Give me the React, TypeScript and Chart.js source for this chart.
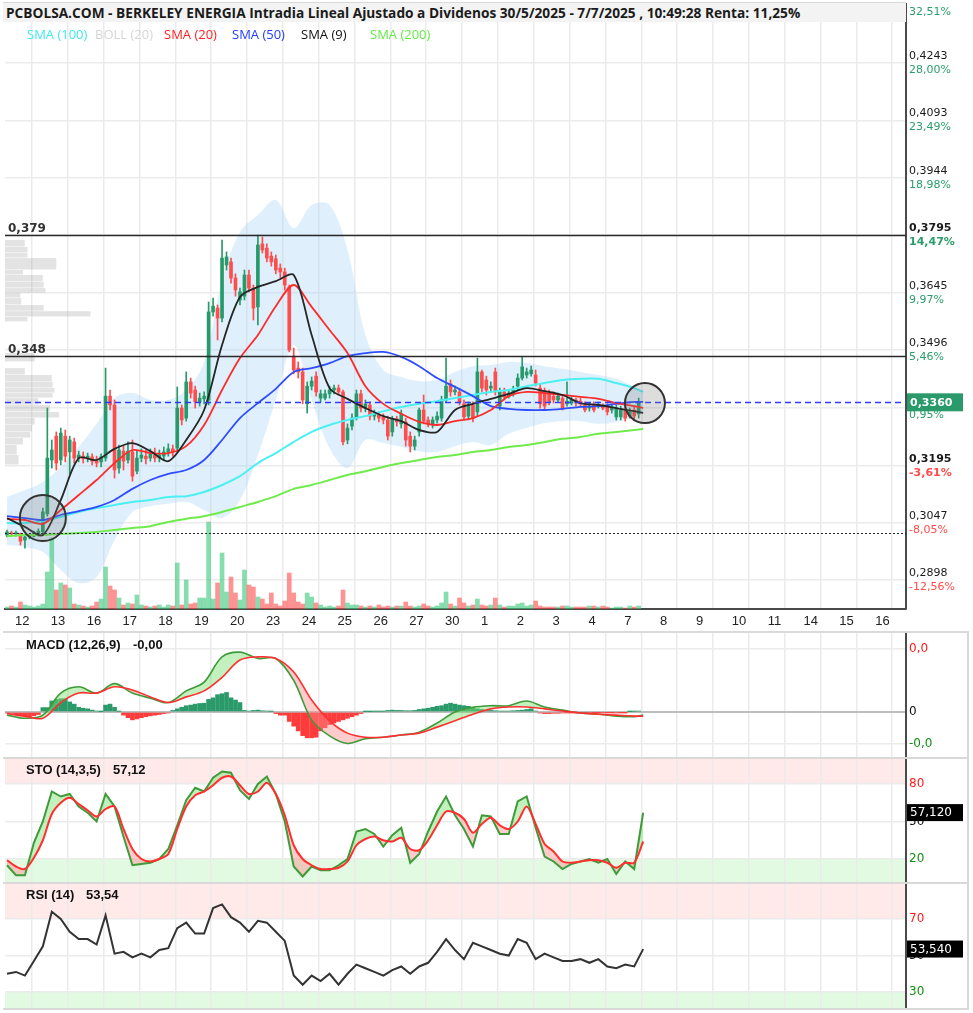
import React, { useEffect, useRef } from "react";
import { Chart, registerables } from "chart.js";

Chart.register(...registerables);
Chart.defaults.font.family = "DejaVu Sans";

/* ---------------- data ---------------- */
const TITLE =
  "PCBOLSA.COM - BERKELEY ENERGIA Intradia Lineal Ajustado a Dividenos 30/5/2025 - 7/7/2025 , 10:49:28 Renta: 11,25%";

const DAY_LABELS = ["12", "13", "16", "17", "18", "19", "20", "23", "24", "25", "26", "27", "30", "1", "2", "3", "4", "7", "8", "9", "10", "11", "14", "15", "16"];

const OPEN = [0.3015,0.3020,0.3018,0.3018,0.3002,0.3010,0.3012,0.3018,0.3023,0.3070,
0.3210,0.3272,0.3210,0.3272,0.3231,0.3257,0.3215,0.3220,0.3215,0.3218,
0.3210,0.3205,0.3215,0.3376,0.3353,0.3189,0.3233,0.3210,0.3231,0.3181,
0.3215,0.3220,0.3215,0.3223,0.3215,0.3220,0.3231,0.3239,0.3241,0.3345,
0.3319,0.3413,0.3392,0.3361,0.3369,0.3366,0.3595,0.3605,0.3579,0.3717,
0.3725,0.3683,0.3626,0.3636,0.3691,0.3657,0.3608,0.3772,0.3761,0.3740,
0.3733,0.3709,0.3699,0.3660,0.3480,0.3449,0.3439,0.3356,0.3402,0.3428,
0.3371,0.3371,0.3382,0.3392,0.3397,0.3387,0.3262,0.3298,0.3319,0.3382,
0.3345,0.3353,0.3324,0.3327,0.3322,0.3314,0.3283,0.3317,0.3304,0.3309,
0.3272,0.3246,0.3283,0.3340,0.3314,0.3304,0.3314,0.3319,0.3366,0.3408,
0.3387,0.3387,0.3356,0.3324,0.3353,0.3335,0.3439,0.3418,0.3397,0.3439,
0.3350,0.3387,0.3376,0.3384,0.3402,0.3423,0.3431,0.3434,0.3431,0.3397,
0.3387,0.3382,0.3376,0.3366,0.3371,0.3356,0.3358,0.3366,0.3363,0.3353,
0.3345,0.3353,0.3350,0.3350,0.3348,0.3340,0.3322,0.3322,0.3340,0.3324,
0.3340,0.3330];

const HIGH = [0.3028,0.3025,0.3025,0.3020,0.3015,0.3018,0.3025,0.3031,0.3085,0.3345,
0.3262,0.3283,0.3293,0.3288,0.3272,0.3267,0.3233,0.3231,0.3228,0.3226,
0.3220,0.3226,0.3449,0.3392,0.3366,0.3249,0.3246,0.3257,0.3262,0.3236,
0.3239,0.3236,0.3239,0.3241,0.3236,0.3244,0.3252,0.3249,0.3400,0.3353,
0.3439,0.3423,0.3402,0.3384,0.3387,0.3621,0.3631,0.3613,0.3782,0.3751,
0.3735,0.3694,0.3657,0.3704,0.3704,0.3665,0.3795,0.3790,0.3772,0.3751,
0.3743,0.3720,0.3709,0.3665,0.3501,0.3465,0.3449,0.3413,0.3426,0.3439,
0.3392,0.3392,0.3402,0.3405,0.3405,0.3392,0.3304,0.3330,0.3392,0.3392,
0.3366,0.3361,0.3340,0.3335,0.3330,0.3324,0.3324,0.3324,0.3340,0.3319,
0.3283,0.3272,0.3345,0.3379,0.3322,0.3322,0.3335,0.3376,0.3475,0.3418,
0.3402,0.3397,0.3366,0.3361,0.3361,0.3475,0.3444,0.3428,0.3413,0.3449,
0.3397,0.3397,0.3392,0.3402,0.3434,0.3478,0.3449,0.3454,0.3444,0.3408,
0.3397,0.3392,0.3387,0.3384,0.3379,0.3413,0.3374,0.3371,0.3371,0.3361,
0.3358,0.3361,0.3361,0.3356,0.3356,0.3356,0.3353,0.3350,0.3350,0.3345,
0.3350,0.3371];

const LOW = [0.3010,0.3012,0.3012,0.2989,0.2981,0.3005,0.3010,0.3012,0.3018,0.3064,
0.3189,0.3184,0.3197,0.3205,0.3174,0.3202,0.3205,0.3202,0.3205,0.3197,
0.3192,0.3192,0.3207,0.3340,0.3163,0.3176,0.3184,0.3202,0.3155,0.3174,
0.3205,0.3200,0.3207,0.3205,0.3205,0.3210,0.3220,0.3220,0.3231,0.3301,
0.3311,0.3371,0.3345,0.3350,0.3356,0.3353,0.3584,0.3522,0.3569,0.3704,
0.3670,0.3636,0.3613,0.3626,0.3647,0.3574,0.3561,0.3748,0.3725,0.3714,
0.3694,0.3683,0.3652,0.3491,0.3434,0.3423,0.3356,0.3332,0.3392,0.3376,
0.3361,0.3366,0.3371,0.3382,0.3379,0.3249,0.3252,0.3288,0.3314,0.3335,
0.3335,0.3314,0.3314,0.3309,0.3304,0.3262,0.3272,0.3298,0.3293,0.3246,
0.3231,0.3236,0.3272,0.3304,0.3296,0.3293,0.3306,0.3311,0.3361,0.3376,
0.3379,0.3353,0.3314,0.3314,0.3309,0.3324,0.3387,0.3379,0.3387,0.3379,
0.3340,0.3366,0.3371,0.3376,0.3392,0.3418,0.3423,0.3428,0.3402,0.3345,
0.3340,0.3353,0.3358,0.3361,0.3340,0.3350,0.3353,0.3350,0.3350,0.3335,
0.3337,0.3335,0.3345,0.3340,0.3327,0.3332,0.3314,0.3314,0.3311,0.3319,
0.3317,0.3319];

const CLOSE = [0.3023,0.3018,0.3020,0.2999,0.3010,0.3012,0.3020,0.3025,0.3075,0.3215,
0.3236,0.3202,0.3280,0.3220,0.3262,0.3215,0.3223,0.3213,0.3220,0.3207,
0.3202,0.3218,0.3376,0.3353,0.3184,0.3236,0.3207,0.3233,0.3168,0.3215,
0.3223,0.3213,0.3226,0.3215,0.3223,0.3231,0.3239,0.3231,0.3345,0.3314,
0.3413,0.3384,0.3361,0.3371,0.3376,0.3595,0.3610,0.3579,0.3735,0.3738,
0.3683,0.3652,0.3647,0.3691,0.3657,0.3605,0.3769,0.3756,0.3735,0.3725,
0.3704,0.3699,0.3665,0.3496,0.3444,0.3439,0.3366,0.3402,0.3415,0.3387,
0.3382,0.3382,0.3392,0.3397,0.3387,0.3257,0.3293,0.3319,0.3382,0.3345,
0.3356,0.3324,0.3330,0.3319,0.3314,0.3272,0.3317,0.3309,0.3330,0.3262,
0.3246,0.3262,0.3340,0.3311,0.3304,0.3314,0.3324,0.3366,0.3402,0.3387,
0.3392,0.3361,0.3322,0.3353,0.3319,0.3439,0.3397,0.3392,0.3402,0.3387,
0.3387,0.3374,0.3384,0.3392,0.3423,0.3452,0.3439,0.3444,0.3410,0.3356,
0.3350,0.3361,0.3366,0.3376,0.3345,0.3363,0.3366,0.3358,0.3356,0.3340,
0.3350,0.3340,0.3353,0.3345,0.3335,0.3348,0.3345,0.3340,0.3319,0.3335,
0.3324,0.3360];

// volume per candle (x 10.000 acciones)
const VOLUME = [2,3,2,7,4,3,2,3,5,37, 71,19,26,24,21,5,4,3,2,3, 7,10,42,23,19,11,4,6,5,14,
4,3,2,3,4,2,4,3,46,4, 29,5,6,11,11,87,10,26,56,17, 32,16,9,39,24,22,12,10,5,16,
5,3,8,36,16,7,5,16,12,6, 4,2,3,2,3,19,6,4,4,3, 2,3,2,4,2,3,2,3,3,7,
3,2,3,5,3,2,3,6,17,5, 3,11,6,3,4,10,4,3,4,11, 4,2,3,3,5,6,3,4,8,3,
2,2,2,2,3,3,2,2,2,2, 3,3,2,3,2,1,2,2,1,3, 2,3];

// moving averages / bollinger, sampled every 4 candles (last point = current bar)
const SMA200 = [0.3012,0.3015,0.3015,0.3018,0.3020,0.3023,0.3028,0.3033,0.3038,0.3049,0.3057,0.3064,0.3075,0.3088,0.3101,0.3116,0.3135,0.3145,0.3158,0.3171,0.3181,0.3192,0.3202,0.3210,0.3218,0.3223,0.3231,0.3236,0.3244,0.3249,0.3257,0.3265,0.3270,0.3278,0.3283,0.3288,0.3291];
const SMA100 = [0.3046,0.3046,0.3051,0.3062,0.3075,0.3085,0.3093,0.3101,0.3106,0.3114,0.3116,0.3127,0.3145,0.3168,0.3202,0.3228,0.3257,0.3283,0.3301,0.3314,0.3324,0.3337,0.3348,0.3356,0.3363,0.3371,0.3379,0.3387,0.3392,0.3402,0.3410,0.3418,0.3421,0.3421,0.3410,0.3397,0.3387];
const SMA50 = [0.3064,0.3059,0.3054,0.3067,0.3077,0.3088,0.3106,0.3135,0.3158,0.3174,0.3184,0.3210,0.3262,0.3319,0.3358,0.3395,0.3439,0.3449,0.3462,0.3480,0.3488,0.3491,0.3478,0.3454,0.3423,0.3400,0.3376,0.3350,0.3343,0.3340,0.3340,0.3343,0.3348,0.3350,0.3356,0.3361,0.3361];
const SMA20 = [0.3057,0.3054,0.3044,0.3080,0.3119,0.3158,0.3202,0.3236,0.3228,0.3228,0.3246,0.3301,0.3392,0.3475,0.3535,0.3610,0.3665,0.3608,0.3548,0.3488,0.3402,0.3356,0.3330,0.3309,0.3301,0.3311,0.3319,0.3340,0.3376,0.3387,0.3384,0.3379,0.3374,0.3369,0.3358,0.3350,0.3345];
const SMA9 = [0.3059,0.3036,0.3015,0.3106,0.3215,0.3210,0.3239,0.3254,0.3233,0.3207,0.3262,0.3340,0.3509,0.3634,0.3660,0.3675,0.3691,0.3535,0.3397,0.3369,0.3345,0.3324,0.3311,0.3288,0.3283,0.3340,0.3356,0.3369,0.3382,0.3397,0.3389,0.3379,0.3358,0.3353,0.3345,0.3337,0.3332];
const BB_UPPER = [0.3114,0.3132,0.3153,0.3192,0.3244,0.3304,0.3371,0.3384,0.3366,0.3366,0.3392,0.3465,0.3678,0.3803,0.3847,0.3886,0.3813,0.3873,0.3873,0.3756,0.3535,0.3444,0.3426,0.3415,0.3418,0.3439,0.3454,0.3457,0.3465,0.3462,0.3454,0.3447,0.3439,0.3431,0.3421,0.3400,0.3384];
const BB_LOWER = [0.2989,0.2984,0.2971,0.2924,0.2890,0.2906,0.3002,0.3075,0.3090,0.3096,0.3101,0.3080,0.3059,0.3106,0.3223,0.3366,0.3509,0.3366,0.3241,0.3189,0.3262,0.3254,0.3244,0.3233,0.3231,0.3246,0.3257,0.3249,0.3278,0.3293,0.3306,0.3311,0.3311,0.3304,0.3309,0.3324,0.3335];

// volume-by-price profile (price bin top, bin bottom, relative volume)
const PROFILE_TOP = [0.3782,0.3764,0.3748,0.3735,0.3704,0.3691,0.3673,0.3657,0.3644,0.3631,0.3613,0.3597,0.3582,0.3488,0.3449,0.3431,0.3413,0.3397,0.3384,0.3371,0.3353,0.3335,0.3319,0.3301,0.3283,0.3267,0.3249,0.3223];
const PROFILE_BOTTOM = [0.3764,0.3748,0.3735,0.3704,0.3691,0.3673,0.3657,0.3644,0.3631,0.3613,0.3597,0.3582,0.3569,0.3465,0.3431,0.3413,0.3397,0.3384,0.3371,0.3353,0.3335,0.3319,0.3301,0.3283,0.3267,0.3249,0.3223,0.3197];
const PROFILE_VOL = [22,25,25,57,20,42,43,45,17,18,43,95,25,33,22,52,53,55,53,37,50,60,33,30,28,20,13,15];

// horizontal levels
const LEVEL_VALUES = [0.3795, 0.348];
const LEVEL_LABELS = ["0,379", "0,348"];
const LAST_PRICE = 0.336;
const BASE_LINE = 0.302;
const MARKERS = [{ i: 8, price: 0.3059, r: 23 }, { i: 142.4, price: 0.3358, r: 20 }];

// right price axis
const MAIN_TICKS = [0.2898, 0.3047, 0.3195, 0.3346, 0.3496, 0.3645, 0.3795, 0.3944, 0.4093, 0.4243, 0.4393];
const MAIN_TICK_PCT = [-12.56, -8.05, -3.61, 0.95, 5.46, 9.97, 14.47, 18.98, 23.49, 28.0, 32.51];
const BOLD_TICKS = [0.3195, 0.3795];

// MACD (12,26,9), sampled every 4 candles; histogram per candle
const MACD_LINE = [-0.0001,-0.0002,-0.0001,0.0006,0.0008,0.0006,0.0009,0.0006,0.00044,0.0003,0.00067,0.00095,0.00175,0.0019,0.0017,0.0017,0.001,-0.00025,-0.00076,-0.001,-0.00085,-0.0008,-0.00073,-0.00064,-0.00035,0,0.00015,0.0002,0.0002,0.00035,0.00016,0.00006,-0.00003,-0.00007,-0.00013,-0.00015,-0.0001];
const MACD_SIGNAL = [-0.00005,-0.00013,-0.0002,0.0003,0.0006,0.0006,0.0008,0.0007,0.00048,0.0003,0.00048,0.00067,0.0011,0.00165,0.00175,0.0017,0.00127,0.00038,-0.00028,-0.00067,-0.0008,-0.0008,-0.00073,-0.00067,-0.00048,-0.00028,-0.00007,0.0001,0.00016,0.00016,0.0001,0.00003,-0.00003,-0.00007,-0.0001,-0.00013,-0.00013];
const MACD_HIST = [-0.00003,-0.00003,-0.00008,-0.0001,-0.00013,-0.00015,-0.00012,-0.00008,0.00014,0.00014,
0.00035,0.0004,0.00042,0.00042,0.00032,0.00025,0.00015,0.00012,0.0001,0.00006,
0.00003,0.00001,0.00022,0.00025,0.00015,0.00002,-0.0001,-0.00018,-0.00025,-0.00022,
-0.00018,-0.00015,-0.00012,-0.0001,-0.00008,-0.00005,-0.00003,0.00005,0.0001,0.00015,
0.0002,0.00022,0.00025,0.00027,0.00028,0.0004,0.00045,0.00055,0.00058,0.00062,
0.00045,0.00038,0.0003,0.00005,0.00003,0.00005,0.00006,0.00004,0.00003,0.00002,
-0.00005,-0.0001,-0.0001,-0.0003,-0.00045,-0.0006,-0.00075,-0.00082,-0.00082,-0.0008,
-0.0006,-0.0005,-0.0004,-0.00035,-0.0003,-0.00025,-0.0002,-0.00015,-0.0001,-0.00005,
0.00001,0.00001,0.00002,0.00002,0.00002,0.00005,0.00006,0.00005,0.00005,0.00004,
0.00004,0.00005,0.00008,0.0001,0.00012,0.00015,0.00018,0.0002,0.00025,0.00028,
0.00025,0.00022,0.0002,0.00018,0.00015,0.0001,0.00008,0.00005,0.00005,0.00004,
0.00003,0.00003,0.00003,0.00004,0.00005,0.00006,0.00008,0.0001,0.00003,-0.00003,
-0.00005,-0.00005,-0.00004,-0.00004,-0.00003,-0.00002,-0.00002,-0.00001,-0.00001,-0.00002,
-0.00002,-0.00001,-0.00001,-0.00002,-0.00001,-0.00001,-0.00002,-0.00001,-0.00001,0.00001,
0.00002,0.00003];

// Stochastic (14,3,5) and RSI (14), sampled every 2 candles
const STO_K = [15,7,7,33,50,74,70,72,62,57,50,72,62,38,15,16,17,20,28,47,67,77,74,85,90,89,75,68,80,86,72,50,14,6,14,11,11,15,20,42,44,40,30,39,45,17,24,42,58,70,55,44,30,55,54,40,40,66,70,45,22,18,12,16,18,20,17,20,8,18,12,57];
const STO_D = [19,14,12,21,35,56,65,69,64,59,54,60,62,44,28,20,18,20,24,44,62,71,74,79,85,86,79,72,74,81,72,55,31,20,15,12,12,13,18,31,36,38,35,34,37,28,27,35,47,58,57,52,41,48,53,47,44,50,62,48,32,26,18,17,18,19,19,17,13,17,17,34];
const RSI = [40,41,39,47,55,74,70,63,59,59,56,72,51,52,49,51,49,53,54,65,68,62,62,76,78,71,68,63,69,68,63,58,39,34,39,36,40,34,40,45,43,41,39,42,44,40,44,46,52,59,53,48,57,55,53,51,50,59,57,48,51,49,47,47,48,46,48,44,43,45,44,53.5];
const STO_LAST = 57.12;
const RSI_LAST = 53.54;

/* ---------------- layout helpers ---------------- */
const X_MIN = -0.45;
const X_MAX = 200.67;
const CANDLES_PER_DAY = 8;
const FIRST_DAY_TICK = 5.58;
const DAY_TICKS = DAY_LABELS.map((_, k) => FIRST_DAY_TICK + k * CANDLES_PER_DAY);
const LAST_X = 142;
const MA_X = [...Array.from({ length: 36 }, (_, k) => k * 4), LAST_X];
const OSC_X = [...Array.from({ length: 71 }, (_, k) => k * 2), LAST_X];
const pts = (xs: number[], ys: number[]) => ys.map((y, k) => ({ x: xs[k], y }));

const GREEN = "#269a6a";
const RED = "#ff4d4d";
const GRID = "#ebebeb";
const TXT_GREEN = "#2a9d6a";
const TXT_RED = "#ff4b4b";
const fmt = (v: number, d: number) => v.toFixed(d).replace(".", ",");

function xAxis(showLabels: boolean): any {
  return {
    type: "linear",
    min: X_MIN,
    max: X_MAX,
    bounds: "data",
    offset: false,
    afterBuildTicks: (s: any) => {
      s.ticks = DAY_TICKS.map((v) => ({ value: v }));
    },
    afterFit: (s: any) => {
      s.height = showLabels ? 23 : 0;
    },
    grid: { color: GRID, lineWidth: 1.5, drawTicks: false, offset: false },
    border: showLabels ? { display: true, color: "#4a4a4a", width: 2 } : { display: false },
    ticks: showLabels
      ? {
          display: true,
          autoSkip: false,
          maxRotation: 0,
          align: "start",
          labelOffset: -17,
          padding: 5,
          color: "#222",
          font: { family: "Liberation Sans", size: 13 },
          callback: (_v: any, i: number) => DAY_LABELS[i],
        }
      : { display: false },
  };
}

function yAxis(min: number, max: number, ticks: number[], strongZero = false): any {
  const isZero = (c: any) => strongZero && c.tick && c.tick.value === 0;
  return {
    type: "linear",
    position: "right",
    min,
    max,
    bounds: "data",
    beginAtZero: false,
    afterBuildTicks: (s: any) => {
      s.ticks = ticks.map((v) => ({ value: v }));
    },
    afterFit: (s: any) => {
      s.width = 0;
    },
    grid: {
      color: (c: any) => (isZero(c) ? "#bdbdbd" : GRID),
      lineWidth: (c: any) => (isZero(c) ? 2 : 1.5),
      drawTicks: false,
    },
    border: { display: true, color: "#4a4a4a", width: 2 },
    ticks: { display: false },
  };
}

const commonOpts: any = {
  responsive: false,
  maintainAspectRatio: false,
  animation: false,
  devicePixelRatio: 1,
  events: [],
  plugins: { legend: { display: false }, tooltip: { enabled: false } },
};

/* ---------------- main chart ---------------- */
const Y_MIN = 0.28226;
const Y_MAX = 0.43956;
const VOL_MAX = 605;
const PROFILE_MAX = 901;

const mainDecor = {
  id: "mainDecor",
  beforeDatasetsDraw(chart: any) {
    const { ctx, chartArea, scales } = chart;
    const y = scales.y;
    const xp = scales.xProf;
    ctx.save();
    ctx.fillStyle = "rgba(170,170,170,0.33)";
    PROFILE_TOP.forEach((top, k) => {
      const y1 = y.getPixelForValue(top);
      const y2 = y.getPixelForValue(PROFILE_BOTTOM[k]);
      const w = xp.getPixelForValue(PROFILE_VOL[k]) - xp.getPixelForValue(0);
      ctx.fillRect(chartArea.left, y1, w, y2 - y1 - 0.5);
    });
    ctx.restore();
  },
  afterDatasetsDraw(chart: any) {
    const { ctx, chartArea, scales } = chart;
    const y = scales.y;
    const x = scales.x;
    const L = chartArea.left;
    const R = chartArea.right;
    ctx.save();
    // support / resistance levels
    LEVEL_VALUES.forEach((v, k) => {
      const py = Math.round(y.getPixelForValue(v)) + 0.5;
      ctx.strokeStyle = "#2a2a2a";
      ctx.lineWidth = 1.5;
      ctx.setLineDash([]);
      ctx.beginPath();
      ctx.moveTo(L, py);
      ctx.lineTo(R, py);
      ctx.stroke();
      ctx.fillStyle = "#333";
      ctx.font = 'bold 12px "DejaVu Sans"';
      ctx.textAlign = "left";
      ctx.textBaseline = "alphabetic";
      ctx.fillText(LEVEL_LABELS[k], L + 3, py - 4);
    });
    // last price dashed line
    let py = Math.round(y.getPixelForValue(LAST_PRICE)) + 0.5;
    ctx.strokeStyle = "#2f3cff";
    ctx.lineWidth = 1.5;
    ctx.setLineDash([6, 4]);
    ctx.beginPath();
    ctx.moveTo(L, py);
    ctx.lineTo(R, py);
    ctx.stroke();
    // dotted base line
    py = Math.round(y.getPixelForValue(BASE_LINE)) + 0.5;
    ctx.strokeStyle = "#222";
    ctx.lineWidth = 1;
    ctx.setLineDash([2, 2]);
    ctx.beginPath();
    ctx.moveTo(L, py);
    ctx.lineTo(R, py);
    ctx.stroke();
    ctx.setLineDash([]);
    // circle markers
    MARKERS.forEach((m) => {
      ctx.beginPath();
      ctx.arc(x.getPixelForValue(m.i), y.getPixelForValue(m.price), m.r, 0, Math.PI * 2);
      ctx.fillStyle = "rgba(120,120,120,0.25)";
      ctx.fill();
      ctx.strokeStyle = "#333";
      ctx.lineWidth = 2;
      ctx.stroke();
    });
    // right axis labels
    ctx.textAlign = "left";
    ctx.textBaseline = "middle";
    MAIN_TICKS.forEach((v, k) => {
      const ty = y.getPixelForValue(v);
      const bold = BOLD_TICKS.includes(v);
      ctx.font = (bold ? "bold " : "") + '11px "DejaVu Sans"';
      if (ty - 7 > 6) {
        ctx.fillStyle = "#1a1a1a";
        ctx.fillText(fmt(v, 4), R + 3, ty - 7);
      }
      const p = MAIN_TICK_PCT[k];
      ctx.fillStyle = p >= 0 ? TXT_GREEN : TXT_RED;
      ctx.fillText(fmt(p, 2) + "%", R + 3, ty + 7);
    });
    // last price box
    const by = y.getPixelForValue(LAST_PRICE);
    ctx.fillStyle = "#2a9a6a";
    ctx.fillRect(R + 1, by - 9, 56, 18);
    ctx.fillStyle = "#fff";
    ctx.font = 'bold 11px "DejaVu Sans"';
    ctx.fillText(fmt(LAST_PRICE, 4), R + 4, by + 0.5);
    ctx.restore();
  },
};

function mainConfig(): any {
  const up = CLOSE.map((c, i) => c >= OPEN[i]);
  const candleColors = up.map((u) => (u ? GREEN : RED));
  const volColors = up.map((u) => (u ? "rgba(60,200,125,0.62)" : "rgba(255,80,80,0.62)"));
  const line = (label: string, data: number[], color: string, width: number, order: number) => ({
    type: "line",
    label,
    data: pts(MA_X, data),
    borderColor: color,
    borderWidth: width,
    pointRadius: 0,
    tension: 0.3,
    fill: false,
    order,
    xAxisID: "x",
    yAxisID: "y",
  });
  return {
    type: "bar",
    data: {
      datasets: [
        {
          type: "line",
          label: "BOLL (20) sup",
          data: pts(MA_X, BB_UPPER),
          borderWidth: 0,
          pointRadius: 0,
          tension: 0.35,
          fill: "+1",
          backgroundColor: "rgba(160,210,245,0.34)",
          order: 30,
          xAxisID: "x",
          yAxisID: "y",
        },
        {
          type: "line",
          label: "BOLL (20) inf",
          data: pts(MA_X, BB_LOWER),
          borderWidth: 0,
          pointRadius: 0,
          tension: 0.35,
          fill: false,
          order: 31,
          xAxisID: "x",
          yAxisID: "y",
        },
        {
          type: "bar",
          label: "Volumen",
          data: VOLUME.map((v, i) => ({ x: i, y: v })),
          backgroundColor: volColors,
          barThickness: 4,
          grouped: false,
          order: 25,
          xAxisID: "x",
          yAxisID: "yVol",
        },
        {
          type: "bar",
          label: "Rango",
          data: LOW.map((l, i) => ({ x: i, y: [l, HIGH[i]] })),
          backgroundColor: candleColors,
          barThickness: 1,
          grouped: false,
          order: 20,
          xAxisID: "x",
          yAxisID: "y",
        },
        {
          type: "bar",
          label: "Cuerpo",
          data: OPEN.map((o, i) => ({ x: i, y: [o, CLOSE[i]] })),
          backgroundColor: candleColors,
          barThickness: 3,
          minBarLength: 1,
          grouped: false,
          order: 19,
          xAxisID: "x",
          yAxisID: "y",
        },
        line("SMA (200)", SMA200, "#6fec4c", 2, 8),
        line("SMA (100)", SMA100, "#4cf0f2", 2, 7),
        line("SMA (50)", SMA50, "#2f4cff", 1.8, 6),
        line("SMA (20)", SMA20, "#ff2a2a", 1.8, 5),
        line("SMA (9)", SMA9, "#262626", 1.8, 4),
      ],
    },
    options: {
      ...commonOpts,
      layout: { padding: { left: 5, right: 67, top: 4, bottom: 0 } },
      scales: {
        x: xAxis(true),
        xProf: { type: "linear", axis: "x", position: "top", display: false, min: 0, max: PROFILE_MAX },
        y: yAxis(Y_MIN, Y_MAX, MAIN_TICKS),
        yVol: { type: "linear", display: false, min: 0, max: VOL_MAX, position: "left" },
      },
    },
    plugins: [mainDecor],
  };
}

/* ---------------- indicator panels ---------------- */
type Lbl = { v: number; t: string; c: string };
function panelDecor(id: string, labels: Lbl[], box: { v: number; t: string } | null, zones: { from: number; to: number; color: string }[]) {
  return {
    id,
    beforeDraw(chart: any) {
      const { ctx, chartArea, scales } = chart;
      const y = scales.y;
      ctx.save();
      zones.forEach((z) => {
        const y1 = y.getPixelForValue(z.to);
        const y2 = y.getPixelForValue(z.from);
        ctx.fillStyle = z.color;
        ctx.fillRect(chartArea.left, y1, chartArea.right - chartArea.left, y2 - y1);
      });
      ctx.restore();
    },
    afterDraw(chart: any) {
      const { ctx, chartArea, scales } = chart;
      const y = scales.y;
      const R = chartArea.right;
      ctx.save();
      ctx.textAlign = "left";
      ctx.textBaseline = "middle";
      ctx.font = '12px "DejaVu Sans"';
      labels.forEach((l) => {
        ctx.fillStyle = l.c;
        ctx.fillText(l.t, R + 3, y.getPixelForValue(l.v));
      });
      if (box) {
        const by = y.getPixelForValue(box.v);
        ctx.fillStyle = "#000";
        ctx.fillRect(R + 1, by - 8.5, 56, 17);
        ctx.fillStyle = "#fff";
        ctx.fillText(box.t, R + 4, by + 0.5);
      }
      ctx.restore();
    },
  };
}

const PANEL_LAYOUT = { padding: { left: 5, right: 67, top: 0, bottom: 0 } };

function macdConfig(): any {
  return {
    type: "bar",
    data: {
      datasets: [
        {
          type: "bar",
          label: "Histograma",
          data: MACD_HIST.map((v, i) => ({ x: i, y: v })),
          backgroundColor: MACD_HIST.map((v) => (v >= 0 ? "#2b9a6b" : "#ff3b3b")),
          barThickness: 4,
          grouped: false,
          order: 10,
        },
        {
          type: "line",
          label: "MACD",
          data: pts(MA_X, MACD_LINE),
          borderColor: "#3f9a3a",
          borderWidth: 1.6,
          pointRadius: 0,
          tension: 0.35,
          fill: { target: 2, above: "rgba(120,225,110,0.45)", below: "rgba(255,140,140,0.45)" },
          order: 2,
        },
        {
          type: "line",
          label: "Señal",
          data: pts(MA_X, MACD_SIGNAL),
          borderColor: "#ff2f2f",
          borderWidth: 1.6,
          pointRadius: 0,
          tension: 0.35,
          fill: false,
          order: 1,
        },
      ],
    },
    options: {
      ...commonOpts,
      layout: PANEL_LAYOUT,
      scales: { x: xAxis(false), y: yAxis(-0.0014603, 0.0025079, [0.002, 0, -0.001], true) },
    },
    plugins: [
      panelDecor(
        "macdDecor",
        [
          { v: 0.002, t: "0,0", c: "#ff1a1a" },
          { v: 0, t: "0", c: "#111" },
          { v: -0.001, t: "-0,0", c: "#109010" },
        ],
        null,
        []
      ),
    ],
  };
}

function stoConfig(): any {
  return {
    type: "line",
    data: {
      datasets: [
        {
          label: "%K",
          data: pts(OSC_X, STO_K),
          borderColor: "#3f9a3a",
          borderWidth: 2,
          pointRadius: 0,
          tension: 0,
          fill: { target: 1, above: "rgba(120,225,110,0.45)", below: "rgba(255,140,140,0.45)" },
          order: 2,
        },
        {
          label: "%D",
          data: pts(OSC_X, STO_D),
          borderColor: "#ff2f2f",
          borderWidth: 2,
          pointRadius: 0,
          tension: 0.3,
          fill: false,
          order: 1,
        },
      ],
    },
    options: {
      ...commonOpts,
      layout: PANEL_LAYOUT,
      scales: { x: xAxis(false), y: yAxis(0, 100, [20, 50, 80]) },
    },
    plugins: [
      panelDecor(
        "stoDecor",
        [
          { v: 80, t: "80", c: "#ff1a1a" },
          { v: 50, t: "50", c: "#111" },
          { v: 20, t: "20", c: "#109010" },
        ],
        { v: STO_LAST, t: fmt(STO_LAST, 3) },
        [
          { from: 80, to: 100, color: "#ffe9e9" },
          { from: 0, to: 20, color: "#e1fae1" },
        ]
      ),
    ],
  };
}

function rsiConfig(): any {
  const min = 20.685;
  const max = 89.178;
  return {
    type: "line",
    data: {
      datasets: [
        {
          label: "RSI (14)",
          data: pts(OSC_X, RSI),
          borderColor: "#333",
          borderWidth: 2,
          pointRadius: 0,
          tension: 0,
          fill: false,
        },
      ],
    },
    options: {
      ...commonOpts,
      layout: PANEL_LAYOUT,
      scales: { x: xAxis(false), y: yAxis(min, max, [30, 50, 70]) },
    },
    plugins: [
      panelDecor(
        "rsiDecor",
        [
          { v: 70, t: "70", c: "#ff1a1a" },
          { v: 50, t: "50", c: "#111" },
          { v: 30, t: "30", c: "#109010" },
        ],
        { v: RSI_LAST, t: fmt(RSI_LAST, 3) },
        [
          { from: 70, to: max, color: "#ffe9e9" },
          { from: min, to: 30, color: "#e1fae1" },
        ]
      ),
    ],
  };
}

/* ---------------- component ---------------- */
const LEGEND = [
  { t: "SMA (100)", c: "#3fe9ef", x: 27 },
  { t: "BOLL (20)", c: "#d6d6d6", x: 95 },
  { t: "SMA (20)", c: "#ff1f1f", x: 164 },
  { t: "SMA (50)", c: "#1f3dff", x: 232 },
  { t: "SMA (9)", c: "#111111", x: 301 },
  { t: "SMA (200)", c: "#63ea45", x: 370 },
];

const PANEL_TITLES = [
  { a: "MACD (12,26,9)", b: "-0,00", top: 637, bx: 133 },
  { a: "STO (14,3,5)", b: "57,12", top: 762, bx: 113 },
  { a: "RSI (14)", b: "53,54", top: 887, bx: 86 },
];

export default function App() {
  const mainRef = useRef<HTMLCanvasElement>(null);
  const macdRef = useRef<HTMLCanvasElement>(null);
  const stoRef = useRef<HTMLCanvasElement>(null);
  const rsiRef = useRef<HTMLCanvasElement>(null);

  useEffect(() => {
    const charts = [
      new Chart(mainRef.current as HTMLCanvasElement, mainConfig()),
      new Chart(macdRef.current as HTMLCanvasElement, macdConfig()),
      new Chart(stoRef.current as HTMLCanvasElement, stoConfig()),
      new Chart(rsiRef.current as HTMLCanvasElement, rsiConfig()),
    ];
    return () => charts.forEach((c) => c.destroy());
  }, []);

  const sep = (top: number): React.CSSProperties => ({
    position: "absolute",
    left: 3,
    top,
    width: 966,
    height: 2,
    background: "#d9d9d9",
  });

  return (
    <div style={{ position: "absolute", left: 0, top: 0, width: 973, height: 1013, background: "#fff", overflow: "hidden" }}>
      <canvas ref={mainRef} width={973} height={632} style={{ position: "absolute", left: 0, top: 0 }} />
      <canvas ref={macdRef} width={973} height={125} style={{ position: "absolute", left: 0, top: 633 }} />
      <canvas ref={stoRef} width={973} height={125} style={{ position: "absolute", left: 0, top: 759 }} />
      <canvas ref={rsiRef} width={973} height={125} style={{ position: "absolute", left: 0, top: 884 }} />

      <div style={sep(631)} />
      <div style={sep(757)} />
      <div style={sep(882)} />
      <div style={sep(1008)} />
      <div style={{ position: "absolute", left: 967, top: 631, width: 2, height: 379, background: "#d9d9d9" }} />

      <div
        style={{
          position: "absolute",
          left: 3,
          top: 2,
          width: 903,
          height: 20,
          background: "#f3f3f3",
          borderTop: "1px solid #dadada",
          boxSizing: "border-box",
        }}
      >
        <span
          style={{
            position: "absolute",
            left: 3,
            top: 0,
            lineHeight: "19px",
            font: 'bold 13.7px "Open Sans"',
            color: "#1b1b1b",
            whiteSpace: "nowrap",
          }}
        >
          {TITLE}
        </span>
      </div>

      {LEGEND.map((l) => (
        <span
          key={l.t}
          style={{
            position: "absolute",
            left: l.x,
            top: 25,
            lineHeight: "18px",
            font: '13px "Open Sans"',
            color: l.c,
            whiteSpace: "nowrap",
          }}
        >
          {l.t}
        </span>
      ))}

      {PANEL_TITLES.map((p) => (
        <React.Fragment key={p.a}>
          <span
            style={{
              position: "absolute",
              left: 26,
              top: p.top,
              lineHeight: "16px",
              font: 'bold 13px "Liberation Sans"',
              color: "#111",
              whiteSpace: "nowrap",
            }}
          >
            {p.a}
          </span>
          <span
            style={{
              position: "absolute",
              left: p.bx,
              top: p.top,
              lineHeight: "16px",
              font: 'bold 13px "Liberation Sans"',
              color: "#111",
              whiteSpace: "nowrap",
            }}
          >
            {p.b}
          </span>
        </React.Fragment>
      ))}
    </div>
  );
}
